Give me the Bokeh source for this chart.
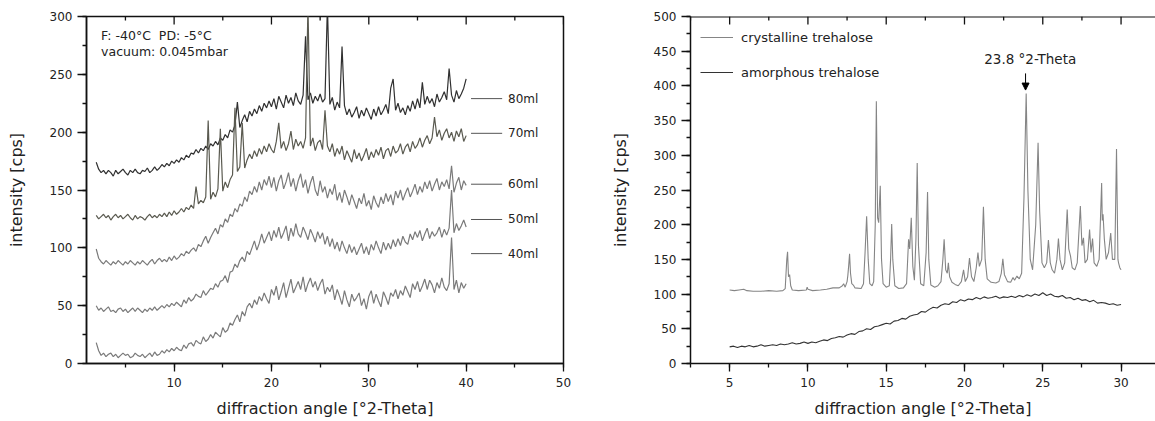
import numpy as np
from bokeh.plotting import figure
from bokeh.layouts import row
from bokeh.models import (Range1d, SingleIntervalTicker, Label, Arrow, NormalHead,
                          Legend, LegendItem, Span)
from bokeh.embed import file_html
from bokeh.resources import INLINE
from bokeh.core.properties import value

FONT = "DejaVu Sans"

# ---------------- Left panel data (scan 2-40 deg 2-Theta, step 0.25) ----------------
scan_start = 2.0
scan_step = 0.25

i_40ml = [
    18, 11, 7, 9,   6, 8, 9, 6,   8, 5, 7, 9,   7, 8, 5, 6,   9, 7, 6, 8,
    5, 7, 9, 6,   10, 7, 8, 11,   9, 12, 10, 13,   11, 14, 12, 11,   16, 13, 17, 18,
    15, 20, 18, 17,   23, 19, 21, 25,   22, 27, 25, 23,   31, 27, 29, 35,   33, 38, 42, 36,
    45, 41, 49, 52,   48, 55, 51, 58,   54, 61, 56, 52,   64, 59, 67, 55,   62, 70, 57, 65,
    73, 61, 66, 71,   64, 75, 62, 69,   74, 66, 71, 63,   69, 73, 60, 66,   62, 68, 55, 64,
    58, 51, 63, 55,   49, 60, 54, 57,   61, 50, 56, 47,   58, 63, 52, 60,   54, 49, 62, 57,
    51, 61, 58, 64,   56, 63, 59, 67,   62, 57, 69, 64,   71, 62, 67, 73,   64, 72, 68, 61,
    70, 65, 74, 66,   63, 69, 109, 64,   72, 61, 70, 65,   69]

i_50ml = [
    50, 46, 48, 45,   47, 49, 45, 46,   44, 47, 48, 45,   47, 44, 46, 48,   45, 48, 46, 44,
    47, 45, 48, 46,   49, 46, 48, 50,   48, 51, 49, 52,   50, 53, 51, 49,   55, 52, 57, 54,
    56, 60, 58, 57,   63, 59, 62, 65,   64, 69, 66, 71,   72, 76, 70, 79,   80, 86, 83, 89,
    92, 88, 97, 94,   100, 106, 98, 104,   112, 104, 109, 114,   106, 115, 109, 118,   108, 113, 119, 106,
    117, 110, 121, 112,   109, 118, 113, 107,   116, 111, 105, 114,   108, 113, 103, 110,   101, 108, 99, 105,
    97, 106, 100, 95,   103, 96, 101, 94,   99, 104, 95, 101,   94, 103, 98, 106,   100, 95, 105, 98,
    104, 99, 107, 101,   108, 102, 110, 105,   103, 112, 107, 114,   109, 115, 106, 112,   117, 108, 114, 110,
    113, 118, 109, 116,   111, 117, 150, 113,   121, 115, 119, 124,   118]

i_60ml = [
    99, 91, 88, 86,   89, 87, 85, 88,   86, 89, 87, 85,   88, 86, 89, 87,   85, 88, 86, 89,
    87, 85, 88, 90,   86, 89, 91, 88,   90, 88, 92, 89,   93, 90, 92, 95,   93, 97, 95, 98,
    100, 97, 103, 101,   106, 110, 104, 109,   113, 117, 112, 120,   118, 125, 122, 129,   127, 134, 131, 138,
    136, 144, 140, 149,   146, 153, 148, 157,   150, 159, 154, 162,   152, 161, 149, 158,   163, 151, 157, 165,
    153, 160, 149, 158,   164, 152, 159, 147,   156, 162, 150, 145,   158, 148, 153, 143,   151, 146, 155, 141,
    148, 139, 150, 144,   137, 146, 140, 134,   143, 138, 147, 136,   141, 133, 145, 139,   135, 144, 138, 147,
    140, 146, 137, 149,   143, 150, 141, 147,   152, 144, 149, 155,   146, 153, 148, 157,   151, 158, 149, 155,
    160, 150, 157, 153,   159, 151, 171, 148,   156, 161, 150, 158,   154]

i_70ml = [
    128, 125, 127, 129,   126, 128, 124, 127,   129, 126, 128, 125,   127, 129, 126, 124,   128, 125, 127, 126,
    124, 127, 129, 126,   128, 126, 129, 127,   130, 127, 131, 128,   132, 129, 131, 134,   131, 135, 133, 137,
    134, 153, 138, 141,   139, 144, 210, 142,   148, 144, 151, 203,   149, 157, 152, 159,   163, 221, 166, 170,
    208, 169, 176, 181,   177, 184, 179, 186,   181, 188, 183, 190,   185, 182, 192, 208,   186, 192, 184, 190,
    201, 185, 194, 188,   192, 186, 195, 310,   188, 195, 184, 191,   193, 185, 219, 188,   183, 190, 179, 186,
    181, 188, 176, 184,   179, 174, 185, 177,   182, 175, 180, 186,   176, 183, 178, 185,   180, 187, 177, 184,
    186, 179, 188, 182,   184, 190, 181, 187,   190, 183, 192, 186,   189, 195, 187, 193,   197, 190, 195, 213,
    196, 202, 193, 199,   203, 195, 200, 192,   201, 196, 203, 192,   197]

i_80ml = [
    174, 168, 165, 167,   164, 167, 165, 162,   167, 164, 166, 168,   165, 163, 167, 165,   168, 165, 164, 167,
    166, 169, 165, 167,   170, 167, 169, 172,   170, 173, 171, 175,   173, 176, 174, 178,   176, 180, 178, 182,
    181, 185, 182, 186,   184, 188, 185, 190,   188, 192, 189, 195,   193, 198, 195, 202,   200, 206, 226, 204,
    210, 215, 209, 218,   214, 220, 216, 223,   218, 225, 221, 227,   222, 229, 220, 231,   226, 221, 232, 225,
    230, 223, 234, 227,   224, 232, 283, 228,   234, 225, 231, 227,   233, 226, 229, 310,   224, 230, 219, 226,
    221, 274, 223, 215,   220, 213, 217, 222,   212, 219, 214, 221,   216, 211, 220, 214,   222, 215, 219, 224,
    216, 238, 246, 219,   225, 217, 221, 215,   223, 218, 227, 220,   229, 221, 243, 224,   231, 225, 229, 222,
    233, 226, 230, 235,   228, 255, 232, 226,   236, 229, 233, 238,   246]

sample_names = ["80ml", "70ml", "60ml", "50ml", "40ml"]

# ---------------- Right panel data ----------------
cryst_theta = [5.0, 5.3, 5.6, 5.9, 6.1, 6.5, 7.0, 7.5, 8.0, 8.4, 8.55, 8.65, 8.70, 8.76, 8.83, 8.9,
               9.0, 9.4, 9.9, 9.95, 10.0, 10.3, 10.8, 11.2, 11.6, 12.0, 12.2, 12.28, 12.38, 12.5,
               12.55, 12.6, 12.66, 12.72, 12.8, 12.9, 13.0, 13.4, 13.55, 13.65, 13.75, 13.85, 13.95,
               14.1, 14.2, 14.3, 14.37, 14.45, 14.52, 14.62, 14.7, 14.8, 15.0, 15.2, 15.28, 15.35,
               15.42, 15.55, 15.8, 16.1, 16.3, 16.43, 16.5, 16.6, 16.7, 16.8, 16.9, 16.98, 17.06,
               17.2, 17.4, 17.55, 17.64, 17.72, 17.85, 18.1, 18.3, 18.5, 18.62, 18.7, 18.8, 18.9,
               18.97, 19.05, 19.2, 19.4, 19.6, 19.8, 19.94, 20.05, 20.2, 20.32, 20.45, 20.6, 20.75,
               20.86, 20.95, 21.1, 21.21, 21.32, 21.45, 21.7, 22.0, 22.2, 22.35, 22.45, 22.55, 22.75,
               22.95, 23.1, 23.2, 23.35, 23.5, 23.65, 23.8, 23.94, 24.05, 24.2, 24.35, 24.55, 24.7,
               24.8, 24.95, 25.1, 25.25, 25.36, 25.48, 25.6, 25.75, 25.9, 26.0, 26.1, 26.25, 26.4,
               26.56, 26.66, 26.77, 26.88, 27.05, 27.2, 27.4, 27.5, 27.6, 27.7, 27.85, 27.99, 28.08,
               28.18, 28.28, 28.45, 28.6, 28.76, 28.8, 28.85, 28.93, 29.05, 29.2, 29.34, 29.45, 29.6,
               29.71, 29.8, 29.84, 29.92, 30.0]
cryst_int = [106, 105, 106, 107, 105, 104, 104, 105, 104, 105, 108, 150, 161, 125, 128, 112,
             106, 105, 106, 110, 107, 105, 106, 107, 109, 109, 112, 115, 110, 118,
             127, 140, 158, 130, 115, 113, 109, 108, 115, 160, 212, 150, 115,
             112, 118, 200, 378, 210, 203, 256, 150, 115, 110, 112, 150, 201,
             150, 112, 108, 109, 115, 179, 165, 210, 140, 120, 180, 289, 170,
             115, 112, 160, 247, 150, 113, 110, 112, 118, 150, 179, 135, 130,
             145, 125, 117, 114, 112, 118, 135, 118, 125, 152, 125, 118, 138,
             160, 140, 150, 226, 150, 122, 117, 116, 118, 130, 151, 128, 118,
             117, 124, 120, 126, 122, 130, 240, 389, 250, 150, 135, 200, 318,
             220, 145, 138, 145, 178, 145, 135, 130, 150, 180, 150, 135, 145,
             222, 165, 155, 138, 135, 145, 227, 170, 181, 145, 150, 193, 160,
             180, 145, 140, 150, 260, 206, 215, 180, 150, 160, 188, 150, 150,
             309, 150, 145, 138, 135]

amorph_start = 5.0
amorph_step = 0.25
amorph_int = [
    24, 25, 23, 25,   24, 26, 24, 25,   27, 25, 26, 27,   26, 28, 27, 28,   30, 28, 29, 31,
    29, 31, 30, 32,   34, 33, 36, 37,   39, 38, 41, 43,   42, 46, 47, 50,   49, 53, 54, 56,
    58, 57, 61, 62,   65, 64, 68, 70,   71, 75, 74, 78,   81, 80, 84, 86,   85, 89, 88, 92,
    90, 93, 92, 95,   93, 96, 94, 95,   97, 94, 96, 95,   97, 95, 98, 96,   99, 97, 100, 98,
    102, 98, 100, 97,   96, 98, 94, 95,   92, 94, 91, 92,   89, 91, 87, 88,   87, 85, 86, 84,
    85]

# ---------------- helpers ----------------
def style_axis(ax, tick_out, minor_out):
    ax.axis_line_width = 1.5
    ax.axis_line_color = "#111111"
    ax.major_tick_line_color = "#111111"
    ax.minor_tick_line_color = "#111111"
    ax.major_tick_line_width = 1.3
    ax.minor_tick_line_width = 1.3
    ax.major_tick_out = tick_out
    ax.minor_tick_out = minor_out
    ax.major_tick_in = 0
    ax.minor_tick_in = 0
    ax.major_label_text_font = FONT
    ax.major_label_text_font_size = "12px"
    ax.major_label_text_color = "#222222"
    ax.axis_label_text_font = FONT
    ax.axis_label_text_font_size = "16px"
    ax.axis_label_text_font_style = "normal"
    ax.axis_label_text_color = "#222222"


def make_fig(width, x_rng, y_rng, xint, yint, mb_left, mb_right, mb_bottom, outline):
    p = figure(width=width, height=421, x_range=Range1d(*x_rng), y_range=Range1d(*y_rng),
               output_backend="svg", toolbar_location=None,
               min_border_left=mb_left, min_border_right=mb_right,
               min_border_top=16, min_border_bottom=mb_bottom)
    p.xgrid.visible = False
    p.ygrid.visible = False
    p.background_fill_color = "white"
    p.border_fill_color = "white"
    if outline:
        p.outline_line_color = "#111111"
        p.outline_line_width = 1.5
    else:
        p.outline_line_color = None
        p.add_layout(Span(location=y_rng[1], dimension="width", line_color="#111111", line_width=2))
    xa = p.xaxis[0]
    xa.ticker = SingleIntervalTicker(interval=xint, num_minor_ticks=2)
    xa.axis_label = "diffraction angle [°2-Theta]"
    style_axis(xa, 8, 4)
    xa.major_label_standoff = 6
    xa.axis_label_standoff = 9
    ya = p.yaxis[0]
    ya.ticker = SingleIntervalTicker(interval=yint, num_minor_ticks=2)
    ya.axis_label = "intensity [cps]"
    style_axis(ya, 9, 4)
    ya.major_label_standoff = 5
    ya.axis_label_standoff = 21

    # inward ticks along the top edge (mirror of the bottom axis, no labels)
    frame_h = 421 - 16 - mb_bottom
    per_px = (y_rng[1] - y_rng[0]) / frame_h
    major = np.arange(np.ceil(x_rng[0] / xint) * xint, x_rng[1] + 1e-9, xint)
    minor = np.arange(np.ceil(x_rng[0] / (xint / 2)) * (xint / 2), x_rng[1] + 1e-9, xint / 2)
    minor = [m for m in minor if abs(m / xint - round(m / xint)) > 1e-6]
    p.segment(x0=major, y0=[y_rng[1]] * len(major), x1=major,
              y1=[y_rng[1] - 8 * per_px] * len(major), line_color="#111111", line_width=1.3)
    p.segment(x0=minor, y0=[y_rng[1]] * len(minor), x1=minor,
              y1=[y_rng[1] - 4 * per_px] * len(minor), line_color="#111111", line_width=1.3)
    return p


# ---------------- Left figure ----------------
p1 = make_fig(575, (1, 50), (0, 300), 10, 50, 86, 12, 58, True)
series = [(i_80ml, "#303030"), (i_70ml, "#5a5a50"), (i_60ml, "#7a7a7a"),
          (i_50ml, "#7a7a7a"), (i_40ml, "#7a7a7a")]
for vals, col in series:
    xs = scan_start + scan_step * np.arange(len(vals))
    p1.line(xs, vals, line_color=col, line_width=1.2)

label_y = [229, 199, 155, 124.5, 95]
p1.segment(x0=[40.5] * 5, y0=label_y, x1=[43.7] * 5, y1=label_y, line_color="#555555", line_width=1)
p1.text(x=[44.3] * 5, y=label_y, text=sample_names, text_font=value(FONT),
        text_font_size="12px", text_baseline="middle", text_align="left", text_color="#222222")

p1.add_layout(Label(x=2.5, y=277, text="F: -40°C\u00a0\u00a0PD: -5°C", text_font=FONT,
                    text_font_size="12.5px", text_color="#222222"))
p1.add_layout(Label(x=2.5, y=263, text="vacuum: 0.045mbar", text_font=FONT,
                    text_font_size="12.5px", text_color="#222222"))

# ---------------- Right figure ----------------
p2 = make_fig(580, (2.5, 32.2), (0, 500), 5, 50, 115, 0, 57, False)
amorph_theta = amorph_start + amorph_step * np.arange(len(amorph_int))
r_c = p2.line(cryst_theta, cryst_int, line_color="#858585", line_width=1.1)
r_a = p2.line(amorph_theta, amorph_int, line_color="#333333", line_width=1.1)

legend = Legend(items=[LegendItem(label="crystalline trehalose", renderers=[r_c]),
                       LegendItem(label="amorphous trehalose", renderers=[r_a])],
                location=(10, 281), orientation="vertical")
legend.border_line_color = None
legend.background_fill_alpha = 0
legend.padding = 0
legend.margin = 0
legend.glyph_width = 33
legend.glyph_height = 20
legend.label_height = 20
legend.spacing = 15
legend.label_standoff = 8
legend.label_text_font = FONT
legend.label_text_font_size = "13px"
legend.label_text_color = "#222222"
p2.add_layout(legend)

p2.add_layout(Label(x=24.2, y=427, text="23.8 °2-Theta", text_font=FONT, text_align="center",
                    text_font_size="13.5px", text_color="#222222"))
p2.add_layout(Arrow(end=NormalHead(size=7, fill_color="black", line_color="black"),
                    x_start=23.9, y_start=418, x_end=23.9, y_end=394,
                    line_color="black", line_width=1))

layout = row(p1, p2)
open("out.html", "w").write(file_html(layout, INLINE))
